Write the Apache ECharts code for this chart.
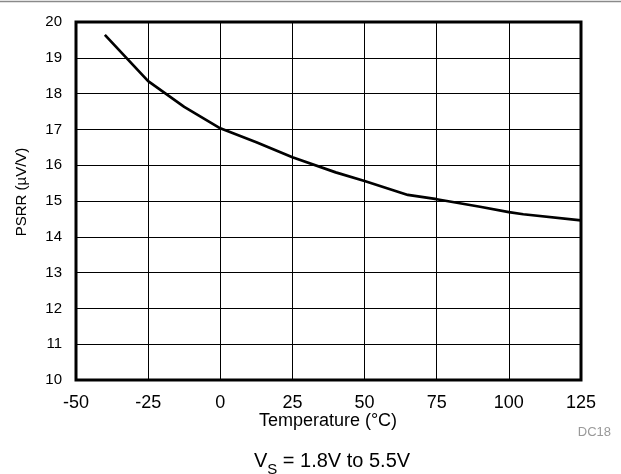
<!DOCTYPE html>
<html>
<head>
<meta charset="utf-8">
<script src="https://cdn.jsdelivr.net/npm/echarts@6/dist/echarts.min.js"></script>
<style>
  html, body { margin: 0; padding: 0; background: #fff; }
  #chart { width: 621px; height: 474px; }
</style>
</head>
<body>
<div id="chart"></div>
<script>
// PSRR versus temperature, VS = 1.8V to 5.5V
const temperatures = [-40, -25, -12.5, 0, 12.5, 25, 40, 50, 65, 75, 90, 100, 105, 125];
const psrrValues   = [19.64, 18.35, 17.63, 17.03, 16.64, 16.22, 15.80, 15.56, 15.17, 15.05, 14.84, 14.69, 14.63, 14.46];
const xTicks = [-50, -25, 0, 25, 50, 75, 100, 125];
const yTicks = [10, 11, 12, 13, 14, 15, 16, 17, 18, 19, 20];

const FONT = '"Liberation Sans", Arial, sans-serif';
const chart = echarts.init(document.getElementById('chart'), null, { renderer: 'canvas' });

const grid = { left: 76, top: 22, right: 40, bottom: 94 };

chart.setOption({
  animation: false,
  backgroundColor: '#fff',
  grid: Object.assign({ show: true, borderColor: '#000', borderWidth: 3, backgroundColor: 'transparent' }, grid),
  xAxis: {
    type: 'value',
    min: xTicks[0],
    max: xTicks[xTicks.length - 1],
    interval: 25,
    axisLine: { show: false },
    axisTick: { show: false },
    axisLabel: { color: '#000', fontFamily: FONT, fontSize: 18, margin: 14 },
    splitLine: { show: true, lineStyle: { color: '#000', width: 1 } }
  },
  yAxis: {
    type: 'value',
    min: yTicks[0],
    max: yTicks[yTicks.length - 1],
    interval: 1,
    axisLine: { show: false },
    axisTick: { show: false },
    axisLabel: { color: '#000', fontFamily: FONT, fontSize: 15, margin: 14 },
    splitLine: { show: true, lineStyle: { color: '#000', width: 1 } }
  },
  series: [{
    type: 'line',
    data: temperatures.map((t, i) => [t, psrrValues[i]]),
    showSymbol: false,
    smooth: false,
    lineStyle: { color: '#000', width: 2.7 },
    z: 3
  }],
  graphic: [
    // rule across the top of the figure
    { type: 'line', shape: { x1: 0, y1: 1.5, x2: 621, y2: 1.5 }, style: { stroke: '#8a8a8a', lineWidth: 1.5 } },
    {
      type: 'text', x: 22, y: 192, rotation: Math.PI / 2,
      style: { text: 'PSRR (µV/V)', fontFamily: FONT, fontSize: 15, fill: '#000', align: 'center', verticalAlign: 'middle' }
    },
    {
      type: 'text', x: 328, y: 421,
      style: { text: 'Temperature (°C)', fontFamily: FONT, fontSize: 18, fill: '#000', align: 'center', verticalAlign: 'middle' }
    },
    {
      type: 'text', x: 611, y: 432,
      style: { text: 'DC18', fontFamily: FONT, fontSize: 13, fill: '#999', align: 'right', verticalAlign: 'middle' }
    },
    {
      type: 'text', x: 332, y: 459,
      style: {
        text: '{m|V}{s|S}{m| = 1.8V to 5.5V}',
        align: 'center', verticalAlign: 'middle',
        rich: {
          m: { fontFamily: FONT, fontSize: 20, fill: '#000', color: '#000', verticalAlign: 'bottom', lineHeight: 24 },
          s: { fontFamily: FONT, fontSize: 15, fill: '#000', color: '#000', verticalAlign: 'bottom', lineHeight: 18, padding: [0, 0, -6, 0] }
        }
      }
    }
  ]
});
</script>
</body>
</html>
